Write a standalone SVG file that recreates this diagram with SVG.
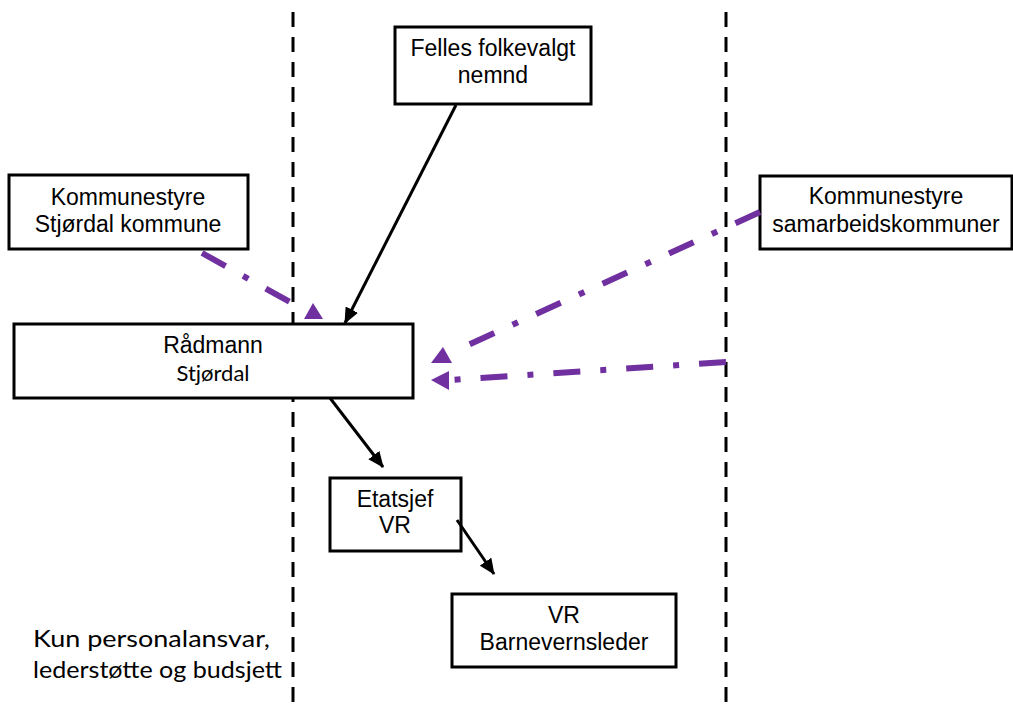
<svg xmlns="http://www.w3.org/2000/svg" width="1013" height="711" viewBox="0 0 1013 711">
<defs>
<style>
.box{fill:#fff;stroke:#000;stroke-width:3}
.t{font-family:"Liberation Sans",Arial,sans-serif;font-size:23px;fill:#000;text-anchor:middle}
.c{font-family:Lato,"Noto Sans",sans-serif;fill:#000}
.vd{stroke:#000;stroke-width:3;stroke-dasharray:15 10;fill:none}
.blk{stroke:#000;stroke-width:3;fill:none;marker-end:url(#ah)}
.pur{stroke:#7030A0;stroke-width:6;fill:none;stroke-dasharray:27 20 6 20}
.ph{fill:#7030A0}
</style>
<marker id="ah" markerUnits="userSpaceOnUse" markerWidth="16" markerHeight="14" refX="15" refY="7" orient="auto">
<path d="M0,0 L16,7 L0,14 Z" fill="#000"/>
</marker>
</defs>
<rect width="1013" height="711" fill="#fff"/>
<g id="dividers">
<line class="vd" x1="293" y1="12" x2="293" y2="711"/>
<line class="vd" x1="726" y1="12" x2="726" y2="711"/>
</g>
<g id="felles"><rect class="box" x="395" y="27" width="196" height="77"/>
<text class="t" x="493" y="56">Felles folkevalgt</text><text class="t" x="493" y="83">nemnd</text></g>
<g id="ks-stjordal"><rect class="box" x="9" y="175" width="239" height="74"/>
<text class="t" x="128" y="205">Kommunestyre</text><text class="t" x="128" y="232">Stjørdal kommune</text></g>
<g id="ks-samarbeid"><rect class="box" x="760" y="176" width="252" height="73"/>
<text class="t" x="886" y="204">Kommunestyre</text><text class="t" x="886" y="232">samarbeidskommuner</text></g>
<g id="radmann"><rect class="box" x="14" y="324" width="399" height="74"/>
<text class="t" x="213" y="353">Rådmann</text><text class="c" x="213" y="381" font-size="22" text-anchor="middle">Stjørdal</text></g>
<g id="etatsjef"><rect class="box" x="330" y="478" width="131" height="73"/>
<text class="t" x="395" y="507">Etatsjef</text><text class="t" x="395" y="533">VR</text></g>
<g id="barnevern"><rect class="box" x="452" y="594" width="224" height="73"/>
<text class="t" x="564" y="623">VR</text><text class="t" x="564" y="650">Barnevernsleder</text></g>
<g id="note">
<text class="c" x="33" y="647" font-size="24" textLength="237" lengthAdjust="spacingAndGlyphs">Kun personalansvar,</text>
<text class="c" x="33" y="678" font-size="24" textLength="249" lengthAdjust="spacingAndGlyphs">lederstøtte og budsjett</text>
</g>
<g id="connectors">
<line class="blk" x1="456" y1="105" x2="345" y2="323"/>
<line class="blk" x1="330" y1="398" x2="383" y2="467"/>
<line class="blk" x1="457" y1="520" x2="494" y2="574"/>
<line class="pur" x1="760" y1="212" x2="466" y2="346"/>
<line class="pur" x1="726" y1="362" x2="449" y2="380"/>
<line class="pur" x1="202" y1="253" x2="290" y2="302"/>
<polygon class="ph" points="313,303 304,319 323,319"/>
<polygon class="ph" points="443,347 431,363 452,363"/>
<polygon class="ph" points="431,380 449,371 449,390"/>
</g>
</svg>
